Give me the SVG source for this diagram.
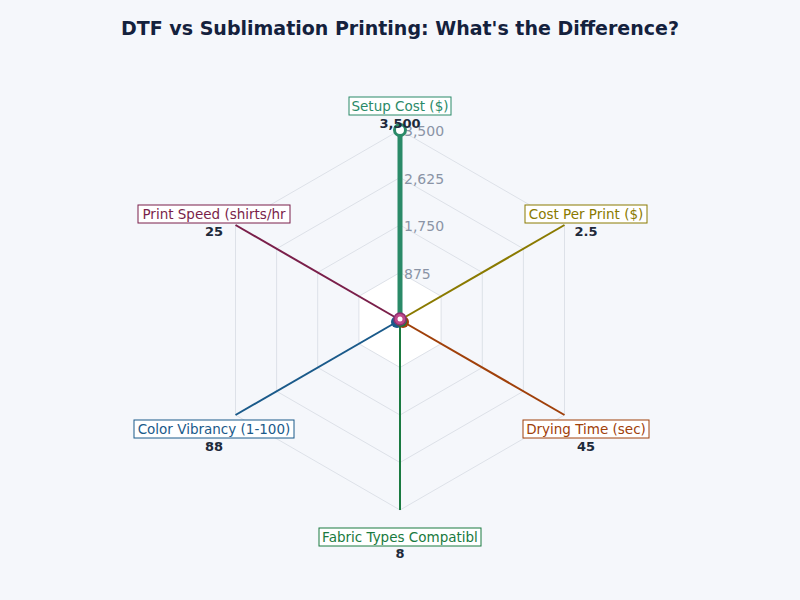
<svg xmlns="http://www.w3.org/2000/svg" width="800" height="600" viewBox="0 0 800 600">
<style>
text{font-family:"DejaVu Sans",sans-serif}
.g{fill:none;stroke:#dde1e8;stroke-width:1}
.lb{font-size:13.5px;text-anchor:middle}
.v{font-size:13px;font-weight:bold;fill:#1e2a3a;text-anchor:middle}
.t{font-size:14px;fill:#8a94a6}
.bx{fill:#fff;stroke-width:1}
</style>
<rect width="800" height="600" fill="#f5f7fb"/>
<text x="400" y="35" text-anchor="middle" font-size="19" font-weight="bold" fill="#14213d">DTF vs Sublimation Printing: What's the Difference?</text>
<g id="grid">
<polygon class="g" style="fill:#fff" points="400,272.5 441.1,296.25 441.1,343.75 400,367.5 358.9,343.75 358.9,296.25"/>
<polygon class="g" points="400,225 482.3,272.5 482.3,367.5 400,415 317.7,367.5 317.7,272.5"/>
<polygon class="g" points="400,177.5 523.4,248.75 523.4,391.25 400,462.5 276.6,391.25 276.6,248.75"/>
<polygon class="g" points="400,130 564.5,225 564.5,415 400,510 235.5,415 235.5,225"/>
</g>
<g id="connectors" stroke-width="2">
<line x1="400" y1="320" x2="564.5" y2="225" stroke="#8a7a00"/>
<line x1="400" y1="320" x2="564.5" y2="415" stroke="#a0400a"/>
<line x1="400" y1="320" x2="400" y2="510" stroke="#1a7a40"/>
<line x1="400" y1="320" x2="235.5" y2="415" stroke="#1a5a8a"/>
<line x1="400" y1="320" x2="235.5" y2="225" stroke="#7a1f4a"/>
<line x1="400" y1="320" x2="400" y2="130" stroke="#2a8a68" stroke-width="5"/>
</g>
<g id="ticks">
<text class="t" x="404" y="136">3,500</text>
<text class="t" x="404" y="184">2,625</text>
<text class="t" x="404" y="231">1,750</text>
<text class="t" x="404" y="279">875</text>
</g>
<g id="dots">
<circle cx="397" cy="322" r="6" fill="#1a5a8a"/>
<circle cx="403" cy="322" r="6" fill="#a0400a"/>
<circle cx="401" cy="321" r="6" fill="#1a7a40"/>
<circle cx="400" cy="319" r="6" fill="#c04a8a" stroke="#8a3070" stroke-width="1.5"/>
<circle cx="400" cy="319" r="2.5" fill="#fff"/>
<circle cx="400" cy="130" r="5.5" fill="#fff" stroke="#2a8a68" stroke-width="3"/>
</g>
<g id="n-setup">
<rect class="bx" x="349" y="97" width="102" height="18" stroke="#2a8a68"/>
<text class="lb" x="400" y="111" fill="#2a8a68">Setup Cost ($)</text>
<text class="v" x="400" y="128">3,500</text>
</g>
<g id="n-cost">
<rect class="bx" x="525" y="205" width="122" height="18" stroke="#8a7a00"/>
<text class="lb" x="586" y="219" fill="#8a7a00">Cost Per Print ($)</text>
<text class="v" x="586" y="236">2.5</text>
</g>
<g id="n-dry">
<rect class="bx" x="523" y="420" width="126" height="18" stroke="#a0400a"/>
<text class="lb" x="586" y="434" fill="#a0400a">Drying Time (sec)</text>
<text class="v" x="586" y="451">45</text>
</g>
<g id="n-fabric">
<rect class="bx" x="319" y="528" width="162" height="18" stroke="#1a7a40"/>
<text class="lb" x="400" y="542" fill="#1a7a40">Fabric Types Compatibl</text>
<text class="v" x="400" y="558">8</text>
</g>
<g id="n-color">
<rect class="bx" x="134" y="420" width="160" height="18" stroke="#1a5a8a"/>
<text class="lb" x="214" y="434" fill="#1a5a8a">Color Vibrancy (1-100)</text>
<text class="v" x="214" y="451">88</text>
</g>
<g id="n-speed">
<rect class="bx" x="138" y="205" width="152" height="18" stroke="#7a1f4a"/>
<text class="lb" x="214" y="219" fill="#7a1f4a">Print Speed (shirts/hr</text>
<text class="v" x="214" y="236">25</text>
</g>
</svg>
